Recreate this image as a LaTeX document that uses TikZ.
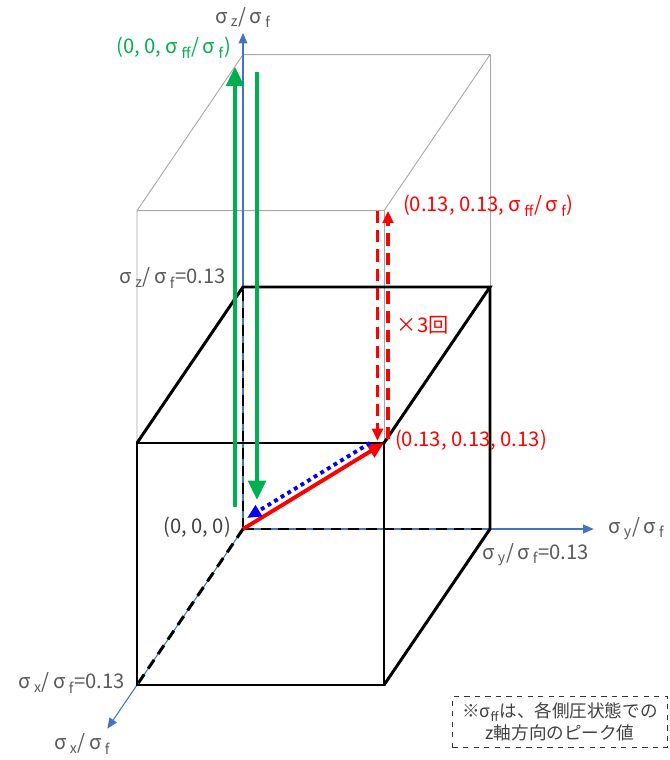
\documentclass[tikz,border=0pt]{standalone}
\usepackage{fontspec}
\setmainfont{Noto Sans CJK JP}
\usepackage{xcolor}
\usepackage{tikz}
\usetikzlibrary{arrows.meta,positioning,calc}
\definecolor{axisblue}{HTML}{4472C4}
\definecolor{okgreen}{HTML}{00B050}
\definecolor{labelgray}{HTML}{595959}
\newcommand{\sigsub}[1]{σ\,\textsubscript{#1}}
\newcommand{\ratio}[1]{\sigsub{#1}/\,\sigsub{f}}

\begin{document}
\begin{tikzpicture}[
      x={(-2.12cm,-3.12cm)}, y={(4.94cm,0cm)}, z={(0cm,4.84cm)},
      edge/.style={line width=1.7pt, black},
      hidden/.style={edge, dash pattern=on 6pt off 4pt},
      ghost/.style={line width=0.5pt, black!35},
      axis/.style={line width=0.6pt, axisblue, -{Triangle[length=6pt,width=5pt]}},
      lbl/.style={text=labelgray, font=\fontsize{11.5}{13}\selectfont, inner sep=1pt},
      load/.style={line width=2.2pt, -{Triangle[length=9pt,width=8pt]}},
      >=Stealth]
    \useasboundingbox (-4.86cm,-4.62cm) rectangle (8.54cm,10.58cm);
    \foreach \n/\p in {O/{0,0,0},X/{1,0,0},Y/{0,1,0},Z/{0,0,1},XY/{1,1,0},XZ/{1,0,1},YZ/{0,1,1},XYZ/{1,1,1},
        TO/{0,0,1.96},TX/{1,0,1.96},TY/{0,1,1.96},TXY/{1,1,1.96},AX/{1.28,0,0},AY/{0,1.42,0},AZ/{0,0,2.05}}
      \coordinate (\n) at (\p);
    \draw[ghost] (XZ) -- (TX) -- (TO) -- (TY) -- (TXY) -- (TX);
    \draw[ghost] (XYZ) -- (TXY);
    \draw[ghost] (YZ) -- (TY);
    \draw[axis] (O) -- (AX);
    \draw[axis] (O) -- (AY);
    \draw[axis] (O) -- (AZ);
    \draw[edge, line join=miter] (X) -- (XY) -- (XYZ) -- (XZ) -- cycle;
    \draw[edge] (XZ) -- (Z) -- (YZ) -- (XYZ);
    \draw[edge] (XY) -- (Y) -- (YZ);
    \draw[hidden] (O) -- (X);
    \draw[hidden] (O) -- (Y);
    \draw[hidden] (O) -- (Z);
    \coordinate (gUpA) at ($(0,0,0.09)+(-0.16cm,0cm)$);
    \coordinate (gUpB) at ($(0,0,1.91)+(-0.16cm,0cm)$);
    \coordinate (gDnA) at ($(0,0,1.89)+(0.28cm,0cm)$);
    \coordinate (gDnB) at ($(0,0,0.12)+(0.28cm,0cm)$);
    \draw[load, okgreen, -{Triangle[length=11pt,width=10pt]}] (gUpA) -- (gUpB);
    \draw[load, okgreen, -{Triangle[length=11pt,width=10pt]}] (gDnA) -- (gDnB);
    \coordinate (rDnA) at ($(TXY)+(-0.13cm,0cm)$);
    \coordinate (rDnB) at ($(XYZ)+(-0.13cm,0.04cm)$);
    \coordinate (rUpA) at ($(XYZ)+(0.08cm,0.08cm)$);
    \coordinate (rUpB) at ($(TXY)+(0.08cm,0cm)$);
    \draw[load, red, dash pattern=on 7pt off 4pt, -{Triangle[length=7pt,width=6pt]}] (rDnA) -- (rDnB);
    \draw[load, red, dash pattern=on 7pt off 4pt, -{Triangle[length=7pt,width=6pt]}] (rUpA) --
      node[lbl, text=red, right=3pt] (times) {×3回} (rUpB);
    \draw[load, red] (O) -- (XYZ);
    \coordinate (bA) at ($(XYZ)+(-0.28cm,0cm)$);
    \coordinate (bB) at ($(O)+(0.08cm,0.22cm)$);
    \draw[load, blue, dash pattern=on 2.2pt off 2.2pt, -{Triangle[length=8pt,width=7pt]}] (bA) -- (bB);
    \node[lbl, above=2pt of AZ] (zlab) {\ratio{z}};
    \node[lbl, right=7pt of AY] (ylab) {\ratio{y}};
    \node[lbl, anchor=north] (xlab) at ($(AX)+(-0.5cm,-0.06cm)$) {\ratio{x}};
    \node[lbl, text=okgreen, anchor=east] (ptop0) at ($(TO)+(-0.2cm,0.14cm)$) {(0, 0,\ \ratio{ff})};
    \node[lbl, text=red, anchor=west] (ptop1) at ($(TXY)+(0.34cm,0.1cm)$) {(0.13, 0.13,\ \ratio{ff})};
    \node[lbl, anchor=east] (zval) at ($(Z)+(-0.3cm,0.18cm)$) {\ratio{z}=0.13};
    \node[lbl, text=red, anchor=west] (pmid) at ($(XYZ)+(0.18cm,0.06cm)$) {(0.13, 0.13, 0.13)};
    \node[lbl, text=black!75, anchor=east] (porig) at ($(O)+(-0.2cm,0.04cm)$) {(0, 0, 0)};
    \node[lbl, anchor=north west] (yval) at ($(Y)+(-0.2cm,-0.24cm)$) {\ratio{y}=0.13};
    \node[lbl, anchor=east] (xval) at ($(X)+(-0.2cm,0.04cm)$) {\ratio{x}=0.13};
    \node[draw=black!80, dashed, line width=0.8pt, minimum width=4.3cm, minimum height=1.02cm,
        align=center, text=black!75, font=\fontsize{10}{12.5}\selectfont] (note) at (6.34cm,-3.86cm)
      {※σ\textsubscript{ff}は、各側圧状態での\\z軸方向のピーク値};
  \end{tikzpicture}
\end{document}
